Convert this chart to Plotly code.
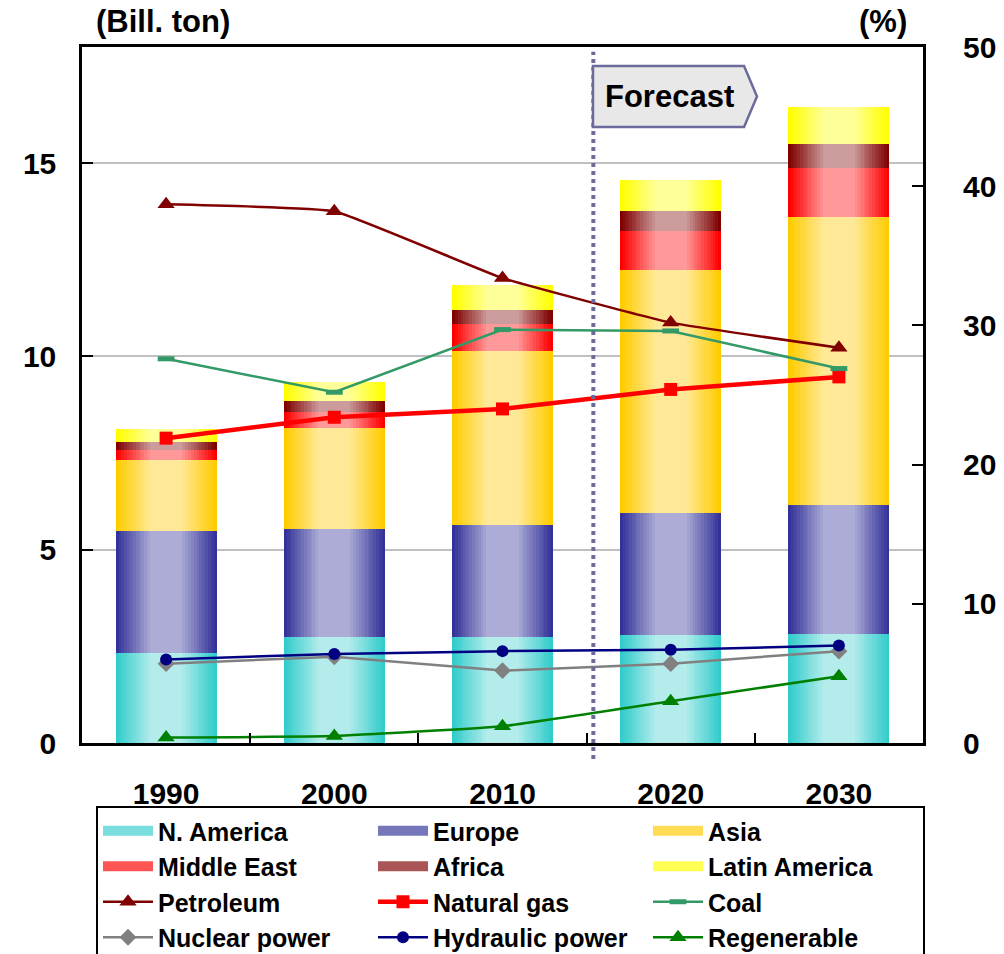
import numpy as np
import plotly.graph_objects as go

# ---- data -------------------------------------------------------------
years = ["1990", "2000", "2010", "2020", "2030"]

# CO2 emissions by region (billion ton)
n_america = [2.33, 2.74, 2.74, 2.79, 2.82]
europe = [3.15, 2.79, 2.90, 3.16, 3.33]
asia = [1.84, 2.62, 4.50, 6.28, 7.45]
middle_east = [0.26, 0.41, 0.70, 1.02, 1.28]
africa = [0.20, 0.28, 0.36, 0.51, 0.61]
latin_america = [0.34, 0.49, 0.64, 0.80, 0.95]

# share by energy source (%)
petroleum = [38.7, 38.2, 33.4, 30.2, 28.4]
natural_gas = [21.9, 23.4, 24.0, 25.4, 26.3]
coal = [27.6, 25.2, 29.7, 29.6, 26.9]
nuclear = [5.7, 6.2, 5.2, 5.7, 6.6]
hydraulic = [6.0, 6.4, 6.6, 6.7, 7.0]
regenerable = [0.4, 0.5, 1.2, 3.0, 4.8]

left_ticks = [0, 5, 10, 15]
right_ticks = [0, 10, 20, 30, 40, 50]

regions = [
    ("N. America", n_america, "#33cccc", "#b4ecec"),
    ("Europe", europe, "#333399", "#acacd6"),
    ("Asia", asia, "#ffcc00", "#ffe999"),
    ("Middle East", middle_east, "#ff0000", "#ff9999"),
    ("Africa", africa, "#800000", "#cc9c9c"),
    ("Latin America", latin_america, "#ffff00", "#ffff99"),
]

# name, values, colour, line width, marker, marker size, line shape, % axis
sources = [
    ("Petroleum", petroleum, "#800000", 2.5, "triangle-up", 15, "spline", "y2"),
    ("Natural gas", natural_gas, "#ff0000", 4.5, "square", 13, "linear", "y2"),
    ("Coal", coal, "#339966", 2.5, "line-ew", 12, "linear", "y2"),
    ("Nuclear power", nuclear, "#808080", 2.5, "diamond", 13, "linear", "y3"),
    ("Hydraulic power", hydraulic, "#000080", 2.5, "circle", 12, "linear", "y3"),
    ("Regenerable", regenerable, "#008000", 2.5, "triangle-up", 15, "spline", "y3"),
]

FONT = "Liberation Sans, Arial, sans-serif"
BAR_W = 0.6
STEPS = 12


def hex_rgb(h):
    h = h.lstrip("#")
    return np.array([int(h[i:i + 2], 16) for i in (0, 2, 4)], dtype=float)


def mix(c0, c1, t):
    c = hex_rgb(c0) * (1 - t) + hex_rgb(c1) * t
    return "rgb(%d,%d,%d)" % tuple(np.round(c).astype(int))


fig = go.Figure()

# stacked bars, each shaded from dark edges to a light centre by
# overlaying progressively narrower bars of the same segment
base = np.zeros(len(years))
for name, vals, edge, centre in regions:
    vals = np.asarray(vals, dtype=float)
    for k in range(STEPS + 1):
        t = k / STEPS
        fig.add_trace(go.Bar(
            x=years, y=vals, base=base,
            width=BAR_W * (1 - 0.68 * t),
            marker=dict(color=mix(edge, centre, t), line=dict(width=0)),
            name=name, legendgroup=name, showlegend=False,
            hoverinfo="skip" if k else None,
        ))
    # wide swatch for the legend entry of this region
    fig.add_trace(go.Scatter(
        x=[None], y=[None], mode="lines", name=name, legendgroup=name,
        line=dict(color=mix(edge, centre, 0.55), width=17),
    ))
    base = base + vals

# energy-source shares on the right (%) scale; y2 and y3 share the range 0-50
for name, vals, color, lw, sym, size, shape, axis in sources:
    marker = dict(symbol=sym, size=size, color=color)
    if sym == "line-ew":
        marker["line"] = dict(color=color, width=5)
    fig.add_trace(go.Scatter(
        x=years, y=vals, yaxis=axis, name=name, mode="lines+markers",
        line=dict(color=color, width=lw, shape=shape, smoothing=0.3),
        marker=marker,
    ))

# forecast divider and tag
fig.add_shape(type="line", xref="x", yref="paper", x0=2.54, x1=2.54,
              y0=-0.023, y1=0.993, line=dict(color="#6b6b9b", width=4, dash="dot"))
fig.add_shape(type="path", xref="paper", yref="paper",
              path="M0.6076,0.9727 L0.7872,0.9727 L0.8026,0.9289 L0.7872,0.8851 "
                   "L0.6076,0.8851 Z",
              fillcolor="#e8e8e8", line=dict(color="#6b6b9b", width=2.5))
fig.add_annotation(x=0.698, y=0.9289, xref="paper", yref="paper", text="Forecast",
                   showarrow=False, xanchor="center", yanchor="middle",
                   font=dict(family=FONT, size=31, color="black", weight="bold"))

# axis unit labels
fig.add_annotation(x=(94 - 82) / 841, y=1.036, xref="paper", yref="paper",
                   text="(Bill. ton)", showarrow=False, xanchor="left", yanchor="middle",
                   font=dict(family=FONT, size=31, color="black", weight="bold"))
fig.add_annotation(x=(909 - 82) / 841, y=1.036, xref="paper", yref="paper",
                   text="(%)", showarrow=False, xanchor="right", yanchor="middle",
                   font=dict(family=FONT, size=31, color="black", weight="bold"))

tickfont = dict(family=FONT, size=30, color="black", weight="bold")

fig.update_layout(
    width=1004, height=954,
    margin=dict(l=82, r=81, t=47, b=211, autoexpand=False),
    paper_bgcolor="white", plot_bgcolor="white",
    barmode="overlay", bargap=0,
    showlegend=True,
    font=dict(family=FONT, color="black"),
    xaxis=dict(
        type="category", range=[-0.5, 4.5],
        showline=True, linecolor="black", linewidth=2.5, mirror=True,
        ticks="inside", tickson="boundaries", ticklen=10, tickwidth=2,
        tickcolor="black", tickfont=tickfont, ticklabelstandoff=22,
        showgrid=False,
    ),
    yaxis=dict(
        range=[0, 18], tickvals=left_ticks,
        showline=True, linecolor="black", linewidth=2.5,
        ticks="inside", ticklen=11, tickwidth=2, tickcolor="black",
        tickfont=tickfont, ticklabelstandoff=17,
        showgrid=True, gridcolor="#c0c0c0", gridwidth=2, zeroline=False,
    ),
    # right axis: line and inward tick marks
    yaxis2=dict(
        range=[0, 50], tickvals=right_ticks,
        overlaying="y", side="right",
        showline=True, linecolor="black", linewidth=2.5,
        ticks="inside", ticklen=11, tickwidth=2, tickcolor="black",
        showticklabels=False, showgrid=False, zeroline=False,
    ),
    # same right scale carrying the labels, set off by a blank outward tick
    yaxis3=dict(
        range=[0, 50], tickvals=right_ticks,
        overlaying="y", side="right", anchor="x",
        showline=False, ticks="outside", ticklen=33,
        tickcolor="rgba(0,0,0,0)", tickfont=tickfont,
        showgrid=False, zeroline=False,
    ),
    legend=dict(
        orientation="h", x=(96 - 82) / 841, y=(743 - 806) / 696,
        xanchor="left", yanchor="top",
        bgcolor="white", bordercolor="black", borderwidth=2,
        font=dict(family=FONT, size=25, color="black", weight="bold"),
        entrywidth=210, itemwidth=50, traceorder="normal",
    ),
)

fig.write_html("out.html")
